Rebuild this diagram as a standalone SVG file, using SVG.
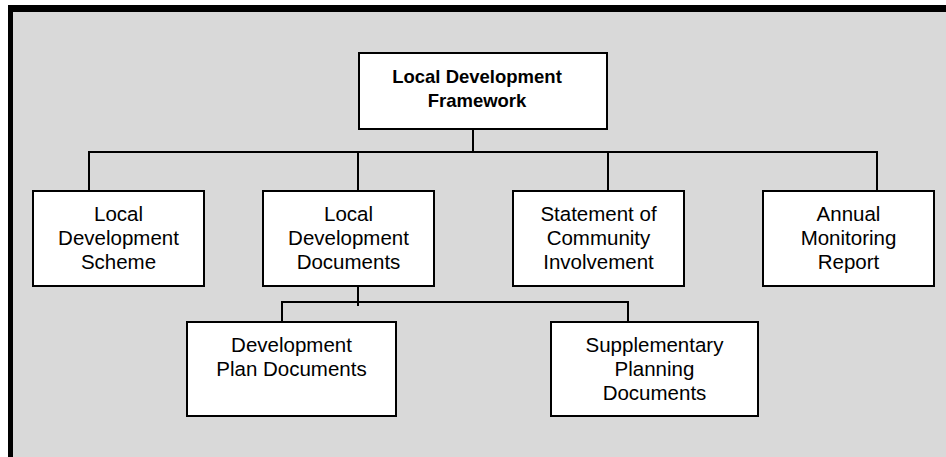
<svg xmlns="http://www.w3.org/2000/svg" width="946" height="457" viewBox="0 0 946 457">
<style>
.box{fill:#ffffff;stroke:#000000;stroke-width:2}
.t{font-family:"Liberation Sans",Arial,sans-serif;font-size:20.5px;fill:#000000;text-anchor:middle}
.b{font-weight:bold;font-size:18.5px}
.c{stroke:#000000;stroke-width:2;fill:none}
</style>
<rect x="0" y="0" width="946" height="457" fill="#ffffff"/>
<rect x="8" y="5" width="938" height="452" fill="#000000"/>
<rect x="13" y="12" width="933" height="445" fill="#d9d9d9"/>
<g id="connectors">
<path class="c" d="M473 129V152M89 191V152H877V191M358 152V191M608 152V191"/>
<path class="c" d="M358 287V306M282 321V302H628V321"/>
</g>
<g id="ldf">
<rect class="box" x="359" y="53" width="248" height="76"/>
<text class="t b" x="477" y="83">Local Development</text>
<text class="t b" x="477" y="107">Framework</text>
</g>
<g id="lds">
<rect class="box" x="33" y="191" width="171" height="95"/>
<text class="t" x="118.5" y="221">Local</text>
<text class="t" x="118.5" y="245">Development</text>
<text class="t" x="118.5" y="269">Scheme</text>
</g>
<g id="ldd">
<rect class="box" x="263" y="191" width="171" height="95"/>
<text class="t" x="348.5" y="221">Local</text>
<text class="t" x="348.5" y="245">Development</text>
<text class="t" x="348.5" y="269">Documents</text>
</g>
<g id="sci">
<rect class="box" x="513" y="191" width="171" height="95"/>
<text class="t" x="598.5" y="221">Statement of</text>
<text class="t" x="598.5" y="245">Community</text>
<text class="t" x="598.5" y="269">Involvement</text>
</g>
<g id="amr">
<rect class="box" x="763" y="191" width="171" height="95"/>
<text class="t" x="848.5" y="221">Annual</text>
<text class="t" x="848.5" y="245">Monitoring</text>
<text class="t" x="848.5" y="269">Report</text>
</g>
<g id="dpd">
<rect class="box" x="187" y="322" width="209" height="94"/>
<text class="t" x="291.5" y="352">Development</text>
<text class="t" x="291.5" y="376">Plan Documents</text>
</g>
<g id="spd">
<rect class="box" x="551" y="322" width="207" height="94"/>
<text class="t" x="654.5" y="352">Supplementary</text>
<text class="t" x="654.5" y="376">Planning</text>
<text class="t" x="654.5" y="400">Documents</text>
</g>
</svg>
